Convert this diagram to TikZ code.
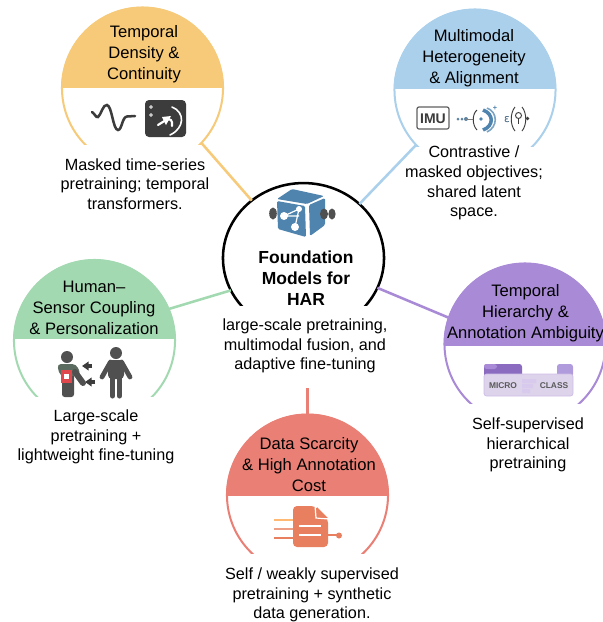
\documentclass[tikz,border=0pt]{standalone}
\usepackage{fontspec}
\setmainfont{Liberation Sans}
\usetikzlibrary{arrows.meta,shapes.geometric}
\definecolor{cyellow}{HTML}{F6CA78}
\definecolor{cblue}{HTML}{AAD0EC}
\definecolor{cgreen}{HTML}{A3D9B1}
\definecolor{cpurple}{HTML}{A98AD6}
\definecolor{cred}{HTML}{E97F75}
\definecolor{icondark}{HTML}{3C3C3C}
\definecolor{cubeblue}{HTML}{4F84AE}
\definecolor{docor}{HTML}{E8805F}
\definecolor{vestgreen}{HTML}{5C6B60}
\definecolor{sensorred}{HTML}{E0484E}
\definecolor{tabdark}{HTML}{8A6BBF}
\definecolor{tablight}{HTML}{B09BDD}
\definecolor{basepale}{HTML}{DDD3EB}
\tikzset{
  hubshape/.style={circle,minimum size=120.75pt,inner sep=0pt,outer sep=0pt},
  titletext/.style={align=center,inner sep=0pt,font=\fontsize{12.45}{15.75}\selectfont},
  desctext/.style={align=center,inner sep=0pt,font=\fontsize{12.15}{14.8}\selectfont},
  link/.style={line width=1.9pt},
  ring/.style={line width=1.5pt},
}
\newcommand{\hubcircle}[6]{%
  \node[hubshape] (#1) at (#3,#4) {};
  \begin{scope}
    \clip ({#3-90},{#4-90}) rectangle ({#3+90},#6);
    \draw[ring,#2] (#3,#4) circle (60.4pt);
  \end{scope}
  \begin{scope}
    \clip ({#3-90},{#4-90}) rectangle ({#3+90},#5);
    \fill[#2] (#3,#4) circle (60.9pt);
  \end{scope}
}
\begin{document}
\begin{tikzpicture}[x=0.75pt,y=-0.75pt]
\useasboundingbox (0,0) rectangle (603,622);
\fill[white] (0,0) rectangle (603,622);

\hubcircle{hubyellow}{cyellow}{142.5}{88}{87}{144}
\hubcircle{hubblue}{cblue}{475}{90}{88}{146}
\hubcircle{hubgreen}{cgreen}{94.5}{340.5}{338}{396}
\hubcircle{hubpurple}{cpurple}{525}{344}{345}{403}
\hubcircle{hubred}{cred}{307.5}{495}{495}{553}

% centre
\node[ellipse,minimum width=120.75pt,minimum height=112.5pt,inner sep=0pt,outer sep=0pt] (hubcentre) at (303.5,258) {};
\begin{scope}
  \clip (210,170) rectangle (400,305);
  \draw[line width=1.9pt,black] (303.5,258) ellipse (60.4pt and 56.2pt);
\end{scope}
\coordinate (redtop) at (307.5,388);

% connectors
\draw[link,cyellow] (hubyellow.-43.7) -- (hubcentre.132.7);
\draw[link,cblue] (hubblue.223.5) -- (hubcentre.44.7);
\draw[link,cgreen] (hubgreen.23.9) -- (hubcentre.204.2);
\draw[link,cpurple] (hubpurple.161.8) -- (hubcentre.-22.6);
\draw[link,cred] (hubred.90) -- (redtop);

% titles
\node[titletext] (tyellow) at (144,54) {Temporal\\Density \&\\Continuity};
\node[titletext] (tblue) at (474,58) {Multimodal\\Heterogeneity\\\& Alignment};
\node[titletext] (tgreen) at (94,308) {Human–\\Sensor Coupling\\\& Personalization};
\node[titletext] (tpurple) at (525.5,313) {Temporal\\Hierarchy \&\\Annotation Ambiguity};
\node[titletext] (tred) at (309,465) {Data Scarcity\\\& High Annotation\\Cost};
\node[titletext,font=\fontsize{13.1}{15.75}\selectfont\bfseries] (tcentre) at (306,278) {Foundation\\Models for\\HAR};

% descriptions
\node[desctext] (dyellow) at (135,184) {Masked time-series\\pretraining; temporal\\transformers.};
\node[desctext] (dblue) at (474,183) {Contrastive /\\masked objectives;\\shared latent\\space.};
\node[desctext] (dgreen) at (96,437) {Large-scale\\pretraining +\\lightweight fine-tuning};
\node[desctext] (dpurple) at (528,445) {Self-supervised\\hierarchical\\pretraining};
\node[desctext] (dred) at (312,595) {Self / weakly supervised\\pretraining + synthetic\\data generation.};
\node[desctext] (dcentre) at (305,346) {large-scale pretraining,\\multimodal fusion, and\\adaptive fine-tuning};

% --- icon: wave and dark box
\draw[line width=1.9pt,icondark,line cap=round]
  (92,112) .. controls (95,114) and (96,118) .. (98,117)
  .. controls (101,115) and (103,104) .. (107,105)
  .. controls (112,106) and (113,130) .. (118,130)
  .. controls (122,130) and (122,117) .. (127,116.5) -- (135,116);
\fill[icondark,rounded corners=3pt] (145,100) rectangle (186,137);
\draw[white,line width=0.5pt] (151,107) circle (1.3);
\draw[white,line width=0.5pt] (151,115) circle (1.3);
\draw[white,line width=1.2pt,line cap=round] (172,107) .. controls (185,112) and (185,128) .. (170,135);
\draw[white,line width=1.6pt,line cap=round] (172,126) .. controls (173,120) and (170,118) .. (166,120) -- (158,125);
\fill[white] (162,117) -- (171,116) -- (166,125) -- cycle;

% --- icon: IMU
\draw[line width=0.9pt,gray!75!black,rounded corners=1.5pt] (417,107) rectangle (449,129);
\node[inner sep=0pt,font=\fontsize{10.5}{12}\selectfont\bfseries,text=icondark] (imu) at (433,118.5) {IMU};
\fill[cubeblue!70!gray] (458,119) circle (1.5) (462,119) circle (1.5) (466,119) circle (2);
\draw[line width=0.6pt,gray] (466,119) -- (473,119);
\draw[line width=0.7pt,icondark] (477,110) .. controls (472,114) and (472,125) .. (477,130);
\fill[cubeblue] (481,119) circle (1.9);
\draw[line width=2.6pt,cubeblue] (483,110) .. controls (494,114) and (494,126) .. (483,130);
\draw[line width=1.2pt,cubeblue!75] (487,108) .. controls (498,112) and (498,127) .. (487,132);
\node[inner sep=0pt,font=\fontsize{5.5}{6}\selectfont\bfseries,text=cubeblue] (plussign) at (495,108.5) {+};
\node[inner sep=0pt,font=\fontsize{8}{9}\selectfont,text=cubeblue!70!black] (epsilon) at (507,120) {\fontspec{DejaVu Sans}ε};
\draw[line width=0.7pt,icondark] (515,107) .. controls (510,113) and (510,125) .. (515,131);
\draw[line width=0.7pt,icondark] (522,107) .. controls (527,113) and (527,125) .. (522,131);
\draw[line width=0.7pt,icondark] (518.5,115.5) circle (3);
\draw[line width=0.7pt,icondark] (518.5,118.5) -- (518.5,124);
\fill[icondark] (527.5,118.5) circle (1.9);

% --- icon: cube
\fill[cubeblue,rounded corners=1pt] (277,199) -- (292,189) -- (324,196) -- (307,204) -- cycle;
\fill[cubeblue,rounded corners=1pt] (277,201) -- (305,206) -- (306,237) -- (278,229) -- cycle;
\fill[cubeblue,rounded corners=1pt] (309,205) -- (325,198) -- (325,225) -- (310,236) -- cycle;
\draw[white,line width=0.9pt] (284,216) -- (299,209) -- (295,227) (284,216) -- (299,216);
\fill[white] (284,216) circle (4) (299,209) circle (3) (295,227) circle (4);
\fill[icondark!90] (273,213.5) ellipse (3.8 and 6);
\fill[icondark!90] (324,214) ellipse (4 and 5.5) (332,214) ellipse (3.6 and 5.5);

% --- icon: people
\fill[icondark!90] (67,357) circle (6);
\fill[icondark!90,rounded corners=2pt] (62,366) rectangle (74,397);
\fill[vestgreen,rounded corners=3pt] (57,364) -- (76,364) -- (81,374) -- (76,376) -- (60,376) -- cycle;
\draw[icondark!90,line width=4.5pt,line cap=round] (75,372) -- (83,383);
\fill[sensorred] (61,370) rectangle (72,383);
\fill[white] (64,374) rectangle (68.5,379);
\coordinate (arrowa) at (92,366);
\coordinate (arrowb) at (95,382);
\draw[icondark,line width=2.4pt,-{Triangle[length=5pt,width=6.5pt]}] (arrowa) -- ++(-10,0);
\draw[icondark,line width=2.4pt,-{Triangle[length=5pt,width=6.5pt]}] (arrowb) -- ++(-10,0);
\fill[icondark!90] (116,353) circle (6);
\fill[icondark!90,rounded corners=3pt] (108,360) rectangle (124,379);
\draw[icondark!90,line width=3.6pt,line cap=round] (110.5,362) -- (102,377);
\draw[icondark!90,line width=3.6pt,line cap=round] (121.5,362) -- (130,377);
\draw[icondark!90,line width=3.8pt,line cap=round] (112.5,376) -- (112.5,396);
\draw[icondark!90,line width=3.8pt,line cap=round] (119.5,376) -- (119.5,396);

% --- icon: micro/class
\fill[tabdark,rounded corners=2pt] (484,364) rectangle (522,377);
\fill[cpurple,rounded corners=2pt] (484,364) rectangle (497,369);
\fill[tablight,rounded corners=2pt] (557,364) rectangle (573,377);
\draw[fill=basepale,draw=cpurple!55!white,line width=0.6pt,rounded corners=2pt] (484,374) rectangle (573,396);
\node[inner sep=0pt,font=\fontsize{6.3}{7}\selectfont\bfseries,text=icondark!85] (micro) at (503,386) {MICRO};
\node[inner sep=0pt,font=\fontsize{6.3}{7}\selectfont\bfseries,text=icondark!85] (classword) at (554,386) {CLASS};
\fill[cpurple!45!white] (522,379) rectangle (536,383) (522,384) rectangle (533,388) (522,389) rectangle (530,393);

% --- icon: document
\fill[docor,rounded corners=3pt] (293,506) -- (315,506) -- (328,519) -- (328,547) -- (293,547) -- cycle;
\draw[white,line width=0.9pt] (315,505) -- (316,518) -- (329,519);
\fill[docor] (317,507) -- (328,518) -- (317,517) -- cycle;
\draw[white,line width=1.4pt] (299,526) -- (321,526) (299,535) -- (321,535);
\draw[line width=2pt,orange!55!white] (274,520) -- (293,520);
\draw[line width=2pt,docor!75!white] (274,529) -- (293,529);
\draw[line width=2pt,docor] (274,538) -- (293,538);
\draw[line width=1.2pt,docor] (328,535) -- (337,535);
\fill[docor] (339,535.5) circle (3);
\end{tikzpicture}
\end{document}
